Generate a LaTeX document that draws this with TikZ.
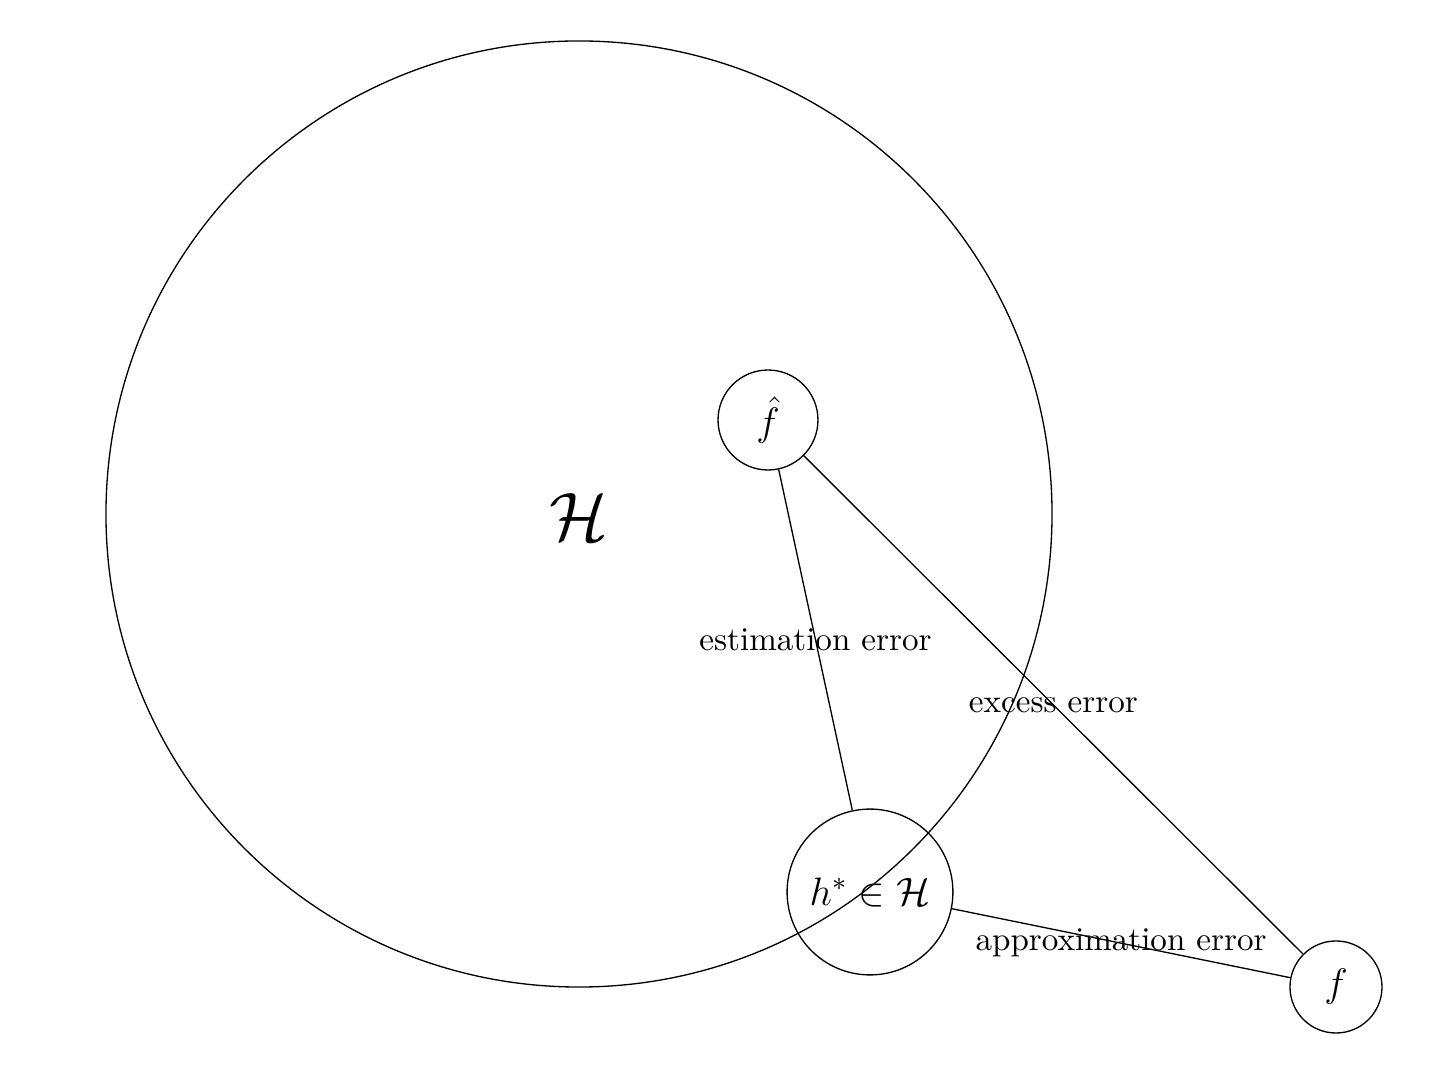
\documentclass[tikz,border=0pt]{standalone}
\begin{document}
\begin{tikzpicture}[x=0.3021pt,y=-0.3021pt,
  ball/.style={draw,circle,inner sep=0pt,line width=0.4pt},
  conn/.style={line width=0.4pt}]
\useasboundingbox (0,0) rectangle (1446,1080);
\node[ball,minimum size=285.8pt] (H) at (579,514) {};
\node at (579,517) {\huge$\mathcal{H}$};
\node[ball,minimum size=30.2pt] (fhat) at (768,420) {\large$\hat{f}$};
\node[ball,minimum size=50.1pt] (hstar) at (870,892) {\large$h^{*}\in\mathcal{H}$};
\node[ball,minimum size=27.8pt] (f) at (1336,987) {\large$f$};
\draw[conn] (fhat) -- node[midway] {estimation error} (hstar);
\draw[conn] (fhat) -- node[midway] {excess error} (f);
\draw[conn] (hstar) -- node[midway] {approximation error} (f);
\end{tikzpicture}
\end{document}
